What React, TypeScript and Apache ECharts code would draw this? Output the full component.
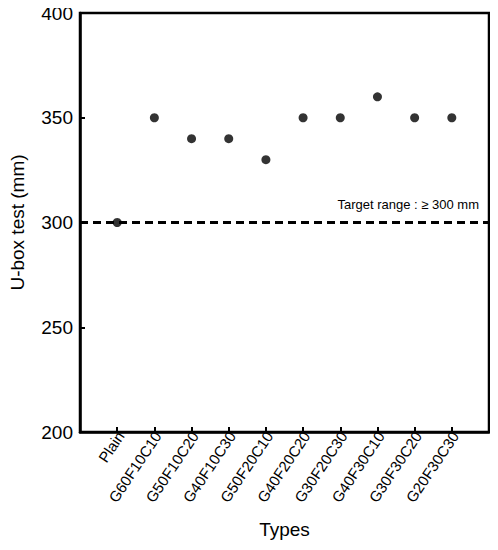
import React, { useEffect, useRef } from "react";
import * as echarts from "echarts";

const categories = ["Plain", "G60F10C10", "G50F10C20", "G40F10C30", "G50F20C10", "G40F20C20", "G30F20C30", "G40F30C10", "G30F30C20", "G20F30C30"];
const uboxValues = [300, 350, 340, 340, 330, 350, 350, 360, 350, 350];
const targetValue = 300;
const targetLabel = "Target range : \u2265 300 mm";

export default function App() {
  const ref = useRef<HTMLDivElement>(null);
  useEffect(() => {
    if (!ref.current) return;
    const chart = echarts.init(ref.current, undefined, { renderer: "svg" });
    const cats = ["", ...categories, ""];
    const data = ["-", ...uboxValues, "-"];
    const font = "Liberation Sans, Arial, sans-serif";
    chart.setOption({
      animation: false,
      textStyle: { fontFamily: font },
      grid: { left: 76, right: 9, top: 13, bottom: 118, show: true, borderColor: "#000", borderWidth: 2.5, backgroundColor: "transparent" },
      xAxis: {
        type: "category",
        data: cats,
        boundaryGap: false,
        name: "Types",
        nameLocation: "middle",
        nameGap: 88,
        nameTextStyle: { fontSize: 19, color: "#000", fontFamily: font },
        axisLine: { show: true, lineStyle: { color: "#000", width: 2.5 } },
        axisTick: { show: true, inside: true, length: 5, interval: 0, lineStyle: { color: "#000", width: 2 } },
        axisLabel: { rotate: 56, interval: 0, fontSize: 15, color: "#000", margin: 6, fontFamily: font, padding: [0, -6, 0, 0] },
        splitLine: { show: false },
      },
      yAxis: {
        type: "value",
        min: 200,
        max: 400,
        interval: 50,
        name: "U-box test (mm)",
        nameLocation: "middle",
        nameGap: 53,
        nameTextStyle: { fontSize: 19, color: "#000", fontFamily: font },
        axisLine: { show: true, lineStyle: { color: "#000", width: 2.5 } },
        axisTick: { show: true, inside: true, length: 5, lineStyle: { color: "#000", width: 2 } },
        axisLabel: { fontSize: 19, color: "#000", margin: 7, fontFamily: font },
        splitLine: { show: false },
      },
      series: [
        {
          type: "scatter",
          data,
          symbol: "circle",
          symbolSize: 9,
          itemStyle: { color: "#000" },
          markLine: {
            silent: true,
            symbol: "none",
            lineStyle: { color: "#000", type: [8, 5], width: 3 },
            label: { show: true, position: "insideEndTop", formatter: targetLabel, fontSize: 13, color: "#000", fontFamily: font, distance: [10, 12] },
            data: [{ yAxis: targetValue }],
          },
        },
      ],
    });
    return () => chart.dispose();
  }, []);
  return <div ref={ref} style={{ width: 498, height: 550, margin: -8 }} />;
}
